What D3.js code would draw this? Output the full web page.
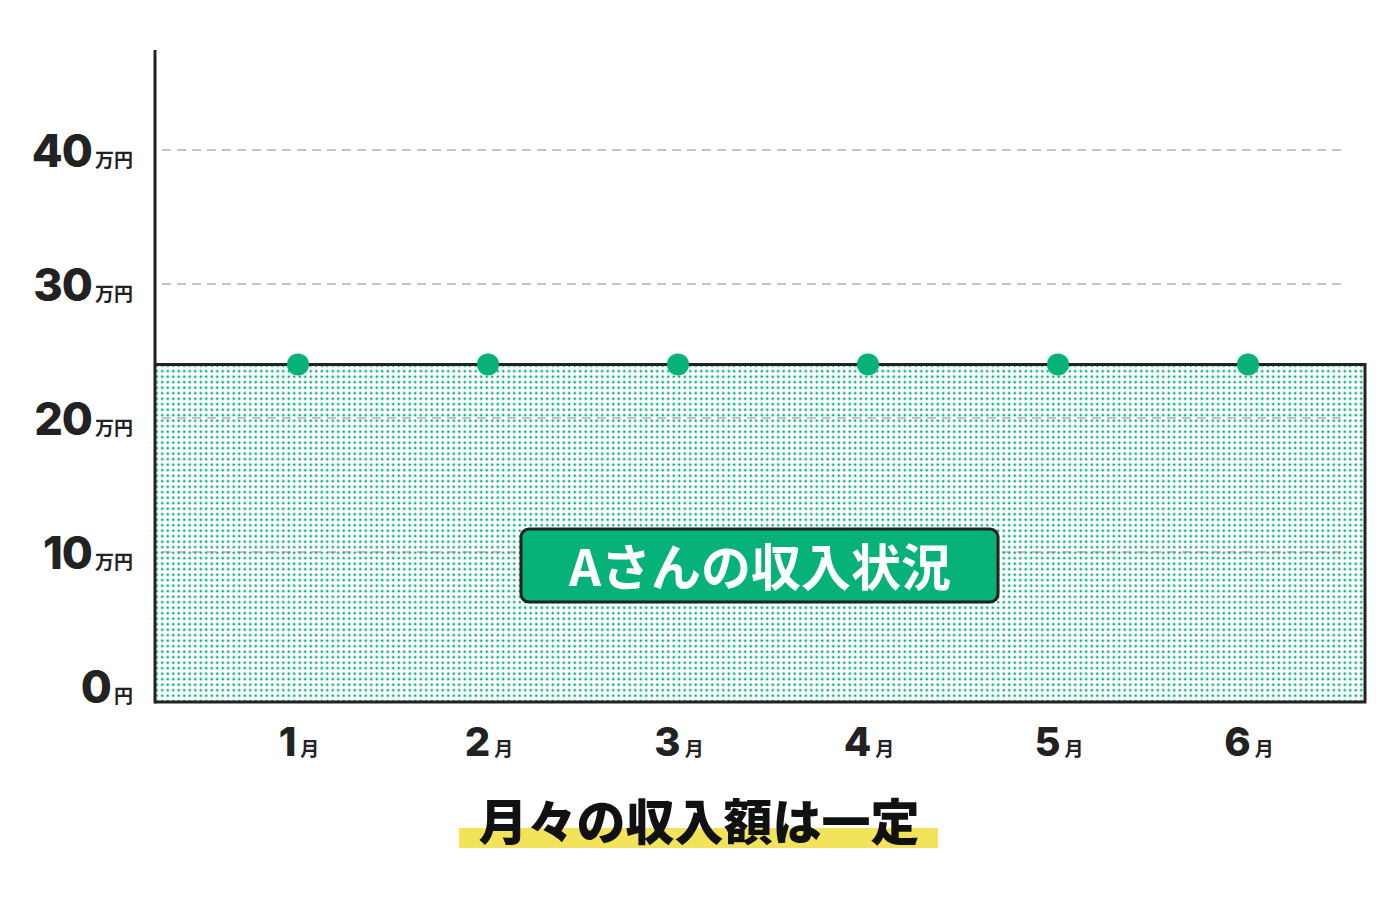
<!DOCTYPE html>
<html>
<head>
<meta charset="utf-8">
<script src="https://cdn.jsdelivr.net/npm/d3@7"></script>
<style>
  body { margin: 0; background: #fff; }
  svg { display: block; }
  text { font-family: "Noto Sans CJK JP", "Noto Sans", sans-serif; }
  .num { font-family: Inter, "DejaVu Sans", sans-serif; font-weight: 800; }
</style>
</head>
<body>
<svg id="chart" width="1400" height="909"></svg>
<script>
// data
var months = [1, 2, 3, 4, 5, 6];
var income = [24, 24, 24, 24, 24, 24];   // 万円
var yTicks = [0, 10, 20, 30, 40];
var boxLabel = "Aさんの収入状況";
var caption = "月々の収入額は一定";

var green = "#07b27a", ink = "#222";
var svg = d3.select("#chart");

var left = 155, right = 1365, bottom = 702;
var x = d3.scalePoint().domain(months).range([298, 1248]);
var y = d3.scaleLinear().domain([0, 40]).range([686, 150]);

// dot pattern
var defs = svg.append("defs");
var pat = defs.append("pattern")
  .attr("id", "dots")
  .attr("patternUnits", "userSpaceOnUse")
  .attr("width", 5.5).attr("height", 5.5);
pat.append("circle").attr("cx", 2.75).attr("cy", 2.75).attr("r", 1.35).attr("fill", green);

// area
svg.append("rect")
  .attr("x", left)
  .attr("y", y(d3.max(income)))
  .attr("width", right - left)
  .attr("height", bottom - y(d3.max(income)))
  .attr("fill", "url(#dots)");

// grid
svg.selectAll(".grid")
  .data(yTicks.filter(function(d){ return d > 0; }))
  .enter().append("line")
  .attr("x1", 162).attr("x2", 1345)
  .attr("y1", function(d){ return y(d); })
  .attr("y2", function(d){ return y(d); })
  .attr("stroke", "#8a8a8a")
  .attr("stroke-width", 1)
  .attr("stroke-dasharray", "9 6");

// area outline (top, right, bottom)
svg.append("path")
  .attr("d", "M" + left + "," + y(d3.max(income)) + "H" + right + "V" + bottom + "H" + left)
  .attr("fill", "none")
  .attr("stroke", ink)
  .attr("stroke-width", 3);

// y axis
svg.append("line")
  .attr("x1", left).attr("x2", left)
  .attr("y1", 50).attr("y2", bottom + 1.5)
  .attr("stroke", ink).attr("stroke-width", 3);

// y labels
var yl = svg.selectAll(".ylab")
  .data(yTicks)
  .enter().append("text")
  .attr("x", 133)
  .attr("y", function(d){ return y(d) + 17; })
  .attr("text-anchor", "end")
  .attr("fill", ink)
  .attr("font-weight", 700);
yl.append("tspan").attr("class", "num").attr("font-size", 45).attr("letter-spacing", -1).text(function(d){ return d; });
yl.append("tspan").attr("font-size", 19).attr("dx", 3).text(function(d){ return d === 0 ? "円" : "万円"; });

// x labels
var xl = svg.selectAll(".xlab")
  .data(months)
  .enter().append("text")
  .attr("x", function(d){ return x(d) + 1; })
  .attr("y", 756)
  .attr("text-anchor", "middle")
  .attr("fill", ink)
  .attr("font-weight", 700);
xl.append("tspan").attr("class", "num").attr("font-size", 40).text(function(d){ return d; });
xl.append("tspan").attr("font-size", 19).attr("dx", 4).text("月");

// points
svg.selectAll(".pt")
  .data(months)
  .enter().append("circle")
  .attr("cx", function(d){ return x(d); })
  .attr("cy", function(d, i){ return y(income[i]); })
  .attr("r", 11)
  .attr("fill", green);

// label box
svg.append("rect")
  .attr("x", 521).attr("y", 529)
  .attr("width", 477).attr("height", 73)
  .attr("rx", 8)
  .attr("fill", green)
  .attr("stroke", ink).attr("stroke-width", 3);
svg.append("text")
  .attr("x", 760).attr("y", 586)
  .attr("text-anchor", "middle")
  .attr("fill", "#fff")
  .attr("font-size", 50)
  .attr("font-weight", 700)
  .text(boxLabel);

// caption
svg.append("rect")
  .attr("x", 459).attr("y", 828)
  .attr("width", 479).attr("height", 20)
  .attr("fill", "#f2e35a");
svg.append("text")
  .attr("x", 699).attr("y", 840)
  .attr("text-anchor", "middle")
  .attr("fill", "#111")
  .attr("font-size", 49)
  .attr("font-weight", 900)
  .text(caption);
</script>
</body>
</html>
